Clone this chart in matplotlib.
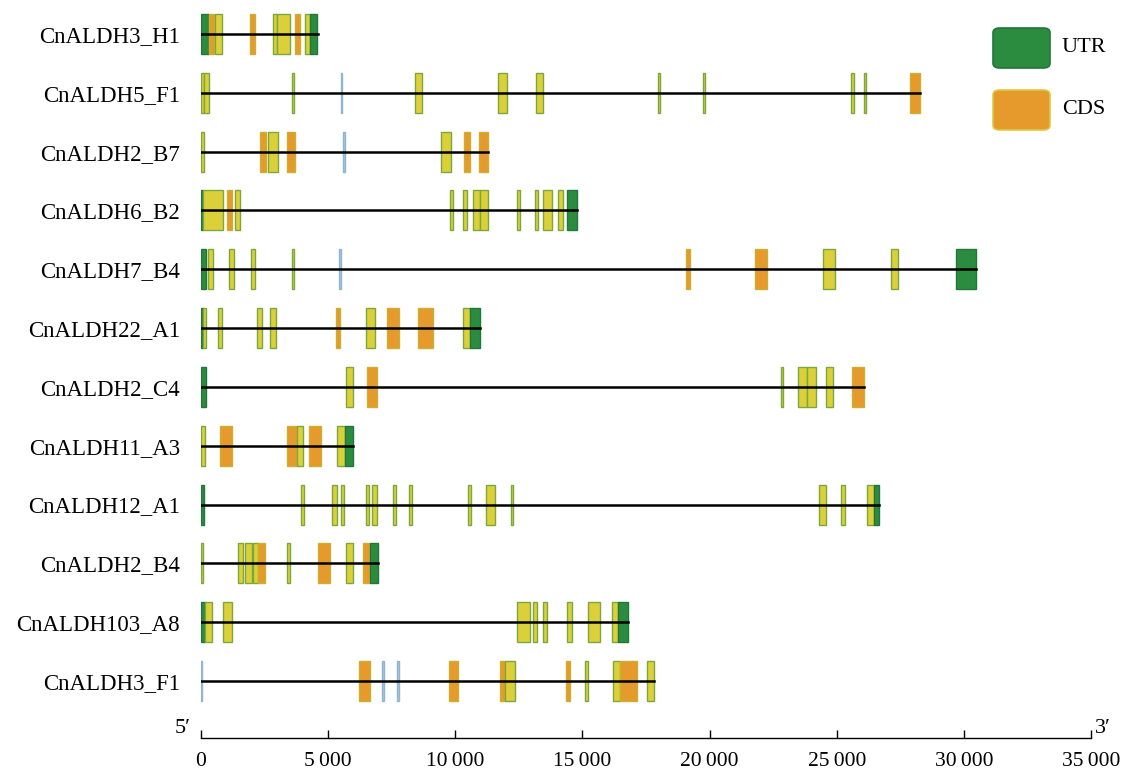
import matplotlib.pyplot as plt
from matplotlib.patches import Rectangle, FancyBboxPatch

plt.rcParams['font.family'] = ['Liberation Serif', 'DejaVu Serif']

# gene names, top to bottom
genes = ['CnALDH3_H1', 'CnALDH5_F1', 'CnALDH2_B7', 'CnALDH6_B2', 'CnALDH7_B4',
         'CnALDH22_A1', 'CnALDH2_C4', 'CnALDH11_A3', 'CnALDH12_A1', 'CnALDH2_B4',
         'CnALDH103_A8', 'CnALDH3_F1']

# gene length (bp)
lengths = [4600, 28270, 11280, 14780, 30480, 10970, 26060, 5975, 26670, 6955, 16780, 17810]

# exons: (start, end, kind)  U = UTR, C = CDS, Y = CDS (light), B = faint
exons = [
    [(0, 300, 'U'), (300, 500, 'C'), (550, 825, 'Y'), (1925, 2120, 'C'), (2830, 2990, 'Y'),
     (2990, 3500, 'Y'), (3695, 3890, 'C'), (4090, 4290, 'Y'), (4290, 4580, 'U')],
    [(0, 100, 'Y'), (120, 300, 'Y'), (3570, 3670, 'Y'), (5500, 5550, 'B'), (8410, 8700, 'Y'),
     (11680, 12030, 'Y'), (13170, 13450, 'Y'), (17980, 18050, 'Y'), (19740, 19820, 'Y'),
     (25580, 25680, 'Y'), (26070, 26170, 'Y'), (27880, 28270, 'C')],
    [(0, 100, 'Y'), (2330, 2560, 'C'), (2630, 3030, 'Y'), (3380, 3695, 'C'), (5590, 5660, 'B'),
     (9430, 9830, 'Y'), (10340, 10570, 'C'), (10930, 11280, 'C')],
    [(0, 60, 'U'), (60, 865, 'Y'), (1020, 1215, 'C'), (1335, 1535, 'Y'), (9790, 9910, 'Y'),
     (10300, 10450, 'Y'), (10700, 10970, 'Y'), (10970, 11280, 'Y'), (12420, 12530, 'Y'),
     (13130, 13240, 'Y'), (13450, 13800, 'Y'), (14030, 14230, 'Y'), (14390, 14780, 'U')],
    [(0, 200, 'U'), (265, 465, 'Y'), (1120, 1315, 'Y'), (1960, 2115, 'Y'), (3560, 3640, 'Y'),
     (5440, 5500, 'B'), (19060, 19230, 'C'), (21770, 22250, 'C'), (24460, 24950, 'Y'),
     (27130, 27400, 'Y'), (29700, 30480, 'U')],
    [(0, 80, 'U'), (80, 200, 'Y'), (665, 825, 'Y'), (2205, 2395, 'Y'), (2710, 2950, 'Y'),
     (5310, 5460, 'C'), (6490, 6845, 'Y'), (7310, 7785, 'C'), (8530, 9120, 'C'),
     (10300, 10575, 'Y'), (10575, 10970, 'U')],
    [(0, 180, 'U'), (5720, 5975, 'Y'), (6530, 6925, 'C'), (22790, 22900, 'Y'), (23480, 23830, 'Y'),
     (23830, 24180, 'Y'), (24560, 24870, 'Y'), (25600, 26060, 'C')],
    [(0, 150, 'Y'), (750, 1215, 'C'), (3375, 3770, 'C'), (3770, 4015, 'Y'), (4245, 4720, 'C'),
     (5350, 5660, 'Y'), (5660, 5975, 'U')],
    [(0, 120, 'U'), (3920, 4045, 'Y'), (5170, 5350, 'Y'), (5510, 5620, 'Y'), (6490, 6600, 'Y'),
     (6720, 6915, 'Y'), (7570, 7660, 'Y'), (8180, 8300, 'Y'), (10490, 10615, 'Y'),
     (11220, 11555, 'Y'), (12190, 12260, 'Y'), (24290, 24580, 'Y'), (25160, 25320, 'Y'),
     (26190, 26450, 'Y'), (26450, 26670, 'U')],
    [(0, 60, 'Y'), (1455, 1650, 'Y'), (1730, 2000, 'Y'), (2040, 2245, 'Y'), (2245, 2520, 'C'),
     (3375, 3500, 'Y'), (4600, 5075, 'C'), (5700, 5975, 'Y'), (6370, 6645, 'C'), (6645, 6955, 'U')],
    [(0, 150, 'U'), (150, 435, 'Y'), (870, 1215, 'Y'), (12420, 12930, 'Y'), (13050, 13210, 'Y'),
     (13450, 13610, 'Y'), (14390, 14590, 'Y'), (15220, 15690, 'Y'), (16160, 16400, 'Y'),
     (16400, 16780, 'U')],
    [(0, 50, 'B'), (6210, 6645, 'C'), (7120, 7190, 'B'), (7710, 7770, 'B'), (9745, 10100, 'C'),
     (11760, 11950, 'C'), (11950, 12345, 'Y'), (14350, 14510, 'C'), (15090, 15220, 'Y'),
     (16200, 16470, 'Y'), (16470, 17140, 'C'), (17530, 17810, 'Y')],
]

ticks = [0, 5000, 10000, 15000, 20000, 25000, 30000, 35000]

face = {'U': '#2b8c3f', 'C': '#e69a2c', 'Y': '#dcd03a', 'B': '#a8c8e0'}
edge = {'U': '#23763a', 'C': '#c9b030', 'Y': '#7ba83c', 'B': '#8fb6d0'}

fig = plt.figure(figsize=(11.24, 7.75), dpi=100)
ax = fig.add_axes([201 / 1124, 1 - 738 / 775, 890 / 1124, 738 / 775])

h = 0.68
for i, (name, L, ex) in enumerate(zip(genes, lengths, exons)):
    for s, e, k in ex:
        ax.add_patch(Rectangle((s, i - h / 2), e - s, h, facecolor=face[k],
                               edgecolor=edge[k], linewidth=1.0, zorder=2))
    ax.plot([0, L], [i, i], color='black', linewidth=1.8, zorder=3)

ax.set_xlim(0, 35000)
ax.set_ylim(11.97, -0.578)
ax.set_yticks(range(len(genes)))
ax.set_yticklabels(genes, fontsize=16.5)
ax.tick_params(axis='y', length=0, pad=15)
ax.set_xticks(ticks)
ax.set_xticklabels([f'{t:,}'.replace(',', '\u2009') for t in ticks], fontsize=15.5)
ax.tick_params(axis='x', direction='in', length=6, width=1, pad=10)
for sp in ['top', 'right', 'left']:
    ax.spines[sp].set_visible(False)
ax.spines['bottom'].set_linewidth(1.0)

# 5' / 3' end marks
ax.text(-400, 11.97, '5\u2032', ha='right', va='bottom', fontsize=16)
ax.text(35150, 11.97, '3\u2032', ha='left', va='bottom', fontsize=16)

# legend
for yb, k, lab in [(68, 'U', 'UTR'), (130, 'C', 'CDS')]:
    box = FancyBboxPatch((993 / 1124, 1 - yb / 775), 57 / 1124, 40 / 775,
                         boxstyle='round,pad=0,rounding_size=0.006',
                         transform=fig.transFigure, facecolor=face[k],
                         edgecolor='#d8cc40' if k == 'C' else '#23763a', linewidth=1.2)
    fig.add_artist(box)
    fig.text(1062 / 1124, 1 - (yb - 20) / 775, lab, ha='left', va='center', fontsize=16)

fig.savefig('out.png', dpi=100)
